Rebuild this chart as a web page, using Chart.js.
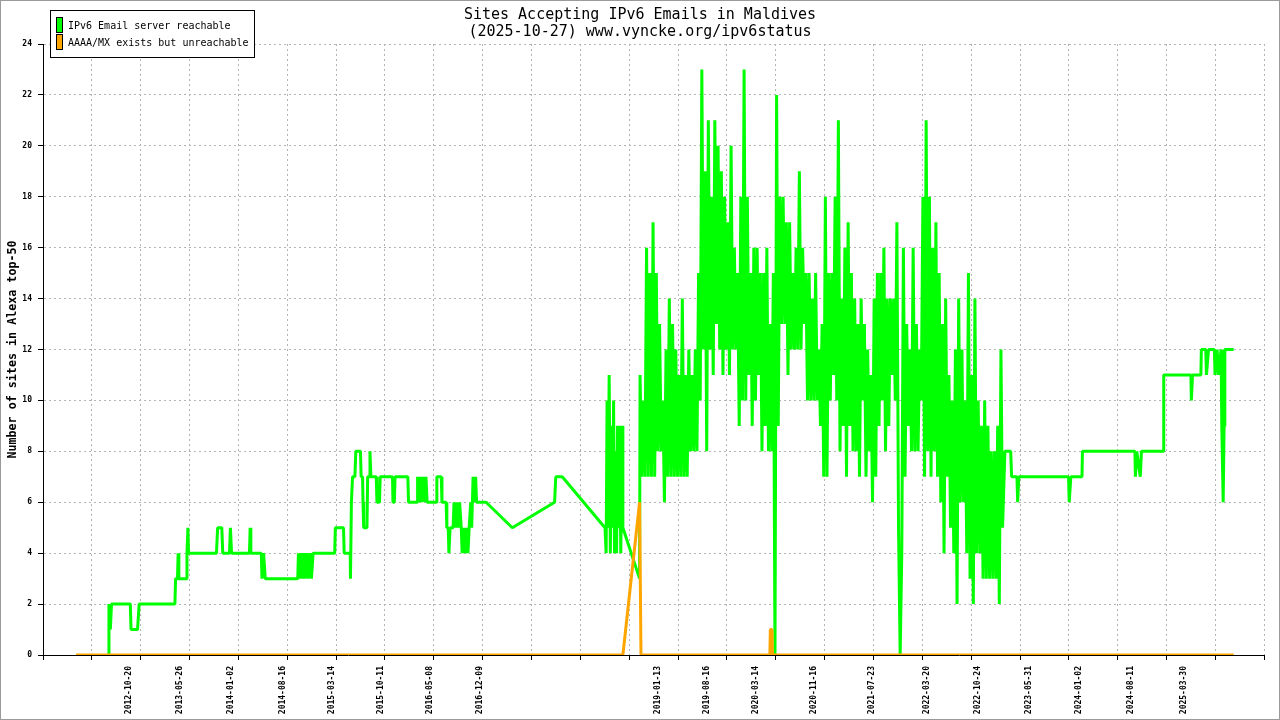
<!DOCTYPE html>
<html>
<head>
<meta charset="utf-8">
<title>Sites Accepting IPv6 Emails in Maldives</title>
<script src="https://cdn.jsdelivr.net/npm/chart.js@4.4.1/dist/chart.umd.min.js"></script>
<style>
  html, body { margin: 0; padding: 0; background: #fff; }
  canvas { display: block; }
</style>
</head>
<body>
<canvas id="emailChart" width="1280" height="720"></canvas>
<script>
// Chart data. All x values are days counted from 2012-01-01.

const chartTitle = ['Sites Accepting IPv6 Emails in Maldives', '(2025-10-27) www.vyncke.org/ipv6status'];
const yAxisTitle = 'Number of sites in Alexa top-50';
const seriesLabels = ['IPv6 Email server reachable', 'AAAA/MX exists but unreachable'];

const tickDates = ['2012-10-20', '2013-05-26', '2014-01-02', '2014-08-16', '2015-03-14', '2015-10-11',
  '2016-05-08', '2016-12-09', '2019-01-13', '2019-08-16', '2020-03-14', '2020-11-16', '2021-07-23',
  '2022-03-20', '2022-10-24', '2023-05-31', '2024-01-02', '2024-08-11', '2025-03-30'];

// reachable servers, 2012 - 2018 (sparse samples)
const greenEarlyDays = [203, 207, 213, 218, 299, 302, 330, 337, 491, 494,
  502, 505, 508, 540, 543, 547, 550, 670, 675, 693,
  697, 726, 730, 735, 812, 815, 818, 863, 866, 873,
  880, 1020, 1023, 1028, 1033, 1038, 1046, 1051, 1059, 1065,
  1073, 1079, 1086, 1179, 1182, 1217, 1220, 1246, 1247, 1251,
  1256, 1266, 1270, 1290, 1293, 1299, 1301, 1304, 1318, 1321,
  1328, 1331, 1335, 1358, 1361, 1372, 1375, 1428, 1430, 1436,
  1439, 1494, 1497, 1534, 1536, 1542, 1547, 1553, 1560, 1567,
  1572, 1577, 1616, 1619, 1638, 1641, 1659, 1662, 1668, 1671,
  1676, 1689, 1693, 1698, 1704, 1711, 1717, 1724, 1728, 1735,
  1741, 1747, 1753, 1758, 1765, 1769, 1775, 1782, 1786, 1790,
  1831, 1944, 2126, 2131, 2159, 2343, 2348, 2352, 2356, 2361,
  2366, 2371, 2376, 2380, 2384, 2389, 2393, 2397, 2402, 2406,
  2411, 2417, 2420, 2492];
const greenEarlyValues = [0, 2, 1, 2, 2, 1, 1, 2, 2, 3,
  3, 4, 3, 3, 4, 5, 4, 4, 5, 5,
  4, 4, 5, 4, 4, 5, 4, 4, 3, 4,
  3, 3, 4, 3, 4, 3, 4, 3, 4, 3,
  4, 3, 4, 4, 5, 5, 4, 4, 3, 6,
  7, 7, 8, 8, 7, 7, 6, 5, 5, 7,
  7, 8, 7, 7, 6, 6, 7, 7, 6, 6,
  7, 7, 6, 6, 7, 6, 7, 6, 7, 6,
  7, 6, 6, 7, 7, 6, 6, 5, 5, 4,
  5, 5, 6, 5, 6, 5, 6, 5, 4, 5,
  4, 5, 4, 5, 6, 5, 7, 6, 7, 6,
  6, 5, 6, 7, 7, 5, 4, 10, 5, 11,
  4, 9, 5, 10, 4, 8, 4, 9, 5, 9,
  4, 9, 5, 3];

// reachable servers, late 2018 - 2023 (weekly samples, very noisy)
const greenBurstStart = '2018-10-30';
const greenBurstStepDays = 7;
const greenBurstValues = [
  11, 7, 10, 7, 16, 7, 15, 7, 17, 7, 15, 8, 13, 8, 10, 6, 12, 7, 14, 7,
  13, 7, 12, 7, 11, 7, 14, 7, 11, 7, 12, 8, 11, 8, 12, 8, 15, 10, 23, 12,
  19, 8, 21, 12, 18, 11, 21, 13, 20, 12, 19, 11, 18, 12, 17, 11, 20, 12, 16, 12,
  15, 9, 18, 10, 23, 10, 18, 11, 15, 9, 16, 10, 16, 11, 15, 8, 15, 9, 16, 8,
  13, 8, 15, 0, 22, 9, 18, 13, 18, 13, 17, 11, 17, 12, 15, 12, 16, 12, 19, 12,
  16, 13, 15, 10, 15, 10, 14, 10, 15, 10, 12, 9, 13, 7, 18, 7, 15, 10, 15, 11,
  18, 10, 21, 8, 14, 9, 16, 7, 17, 9, 15, 8, 14, 8, 13, 7, 14, 10, 13, 7,
  12, 8, 11, 6, 14, 7, 15, 9, 15, 10, 16, 8, 14, 9, 14, 11, 14, 10, 17, 5,
  0, 4, 16, 7, 13, 9, 12, 8, 16, 8, 13, 8, 12, 10, 18, 7, 21, 8, 18, 7,
  16, 8, 17, 7, 15, 6, 13, 4, 14, 7, 11, 5, 10, 4, 12, 2, 14, 6, 12, 6,
  10, 4, 15, 3, 11, 2, 14, 4, 10, 4, 9, 3, 10, 3, 9, 3, 8, 3, 8, 3,
  9, 2, 12, 5];

// reachable servers, 2023 - 2025
const greenLateDays = [4065, 4090, 4094, 4117, 4120, 4125, 4339, 4342, 4349, 4397,
  4399, 4625, 4627, 4633, 4648, 4653, 4747, 4749, 4866, 4868,
  4873, 4909, 4911, 4930, 4933, 4942, 4967, 4970, 4979, 4985,
  4996, 4999, 5005, 5009, 5012, 5050];
const greenLateValues = [8, 8, 7, 7, 6, 7, 7, 6, 7, 7,
  8, 8, 7, 8, 7, 8, 8, 11, 11, 10,
  11, 11, 12, 12, 11, 12, 12, 11, 12, 11,
  12, 9, 6, 9, 12, 12];

// AAAA/MX present but unreachable
const orangeDays = [65, 2420, 2492, 2498, 3053, 3055, 3062, 3064, 5050];
const orangeValues = [0, 0, 6, 0, 0, 1, 1, 0, 0];

// ---------------------------------------------------------------

const FONT = '"DejaVu Sans Mono", "Liberation Mono", monospace';
const GREEN = '#00ff00';
const ORANGE = '#ffa500';
const GRID = '#b4b4b4';
const NONE = 'rgba(0,0,0,0)';

// axis range (days) and the evenly spaced grid ticks
const X_MIN = -77;
const X_MAX = 5182.5;
const GRID_STEPS = 25;

function dayOf(str) {
  const [y, m, d] = str.split('-').map(Number);
  return (Date.UTC(y, m - 1, d) - Date.UTC(2012, 0, 1)) / 864e5;
}

function toPoints(days, values) {
  return days.map((d, i) => ({ x: d, y: values[i] }));
}

function buildGreenPoints() {
  const start = dayOf(greenBurstStart);
  const burst = greenBurstValues.map((v, i) => ({ x: start + i * greenBurstStepDays, y: v }));
  return toPoints(greenEarlyDays, greenEarlyValues)
    .concat(burst)
    .concat(toPoints(greenLateDays, greenLateValues));
}

// title, legend box and outer frame are drawn by hand to sit where the original has them
const decorPlugin = {
  id: 'decor',
  beforeDraw(chart) {
    const ctx = chart.ctx;
    ctx.save();
    ctx.fillStyle = '#fff';
    ctx.fillRect(0, 0, chart.width, chart.height);
    ctx.restore();
  },
  afterDraw(chart) {
    const ctx = chart.ctx;
    ctx.save();

    ctx.fillStyle = '#000';
    ctx.font = '15px ' + FONT;
    ctx.textAlign = 'center';
    ctx.textBaseline = 'alphabetic';
    ctx.fillText(chartTitle[0], 640, 19);
    ctx.fillText(chartTitle[1], 640, 36);

    // legend
    ctx.fillStyle = '#fff';
    ctx.fillRect(50.5, 10.5, 204, 47);
    ctx.strokeStyle = '#000';
    ctx.lineWidth = 1;
    ctx.strokeRect(50.5, 10.5, 204, 47);
    ctx.font = '10px ' + FONT;
    ctx.textAlign = 'left';
    chart.data.datasets.forEach((ds, i) => {
      const top = 17.5 + i * 17;
      ctx.fillStyle = ds.borderColor;
      ctx.fillRect(56.5, top, 6, 15);
      ctx.strokeRect(56.5, top, 6, 15);
      ctx.fillStyle = '#000';
      ctx.fillText(ds.label, 68, 29 + i * 17.4);
    });

    ctx.strokeStyle = '#9a9a9a';
    ctx.strokeRect(0.5, 0.5, chart.width - 1, chart.height - 1);
    ctx.restore();
  }
};

const isDateTick = (c) => c.tick && c.tick.dateLabel;
// no dashed grid line on top of the solid axis lines
const onAxisX = (c) => c.tick && Math.abs(c.tick.value - X_MIN) < 0.01;
const onAxisY = (c) => c.tick && c.tick.value === 0;

new Chart(document.getElementById('emailChart'), {
  type: 'line',
  data: {
    datasets: [
      {
        label: seriesLabels[0],
        data: buildGreenPoints(),
        borderColor: GREEN,
        backgroundColor: GREEN,
        borderWidth: 3,
        borderJoinStyle: 'bevel',
        pointRadius: 0,
        tension: 0,
        order: 2
      },
      {
        label: seriesLabels[1],
        data: toPoints(orangeDays, orangeValues),
        borderColor: ORANGE,
        backgroundColor: ORANGE,
        borderWidth: 3,
        borderJoinStyle: 'bevel',
        pointRadius: 0,
        tension: 0,
        order: 1
      }
    ]
  },
  options: {
    responsive: false,
    animation: false,
    devicePixelRatio: 1,
    layout: { padding: { top: 44, right: 15, bottom: 0, left: 0 } },
    plugins: {
      legend: { display: false },
      title: { display: false },
      tooltip: { enabled: false }
    },
    scales: {
      x: {
        type: 'linear',
        min: X_MIN,
        max: X_MAX,
        afterBuildTicks(scale) {
          const ticks = [];
          for (let k = 0; k <= GRID_STEPS; k++) {
            ticks.push({ value: X_MIN + k * (X_MAX - X_MIN) / GRID_STEPS });
          }
          tickDates.forEach(s => ticks.push({ value: dayOf(s), dateLabel: s }));
          ticks.sort((a, b) => a.value - b.value);
          scale.ticks = ticks;
        },
        afterFit(scale) { scale.height = 65; },
        ticks: {
          autoSkip: false,
          minRotation: 90,
          maxRotation: 90,
          padding: 6,
          color: '#000',
          font: { family: FONT, size: 8, weight: 'bold' },
          callback: (value, index, ticks) => ticks[index].dateLabel || ''
        },
        grid: {
          color: (c) => (isDateTick(c) || onAxisX(c)) ? NONE : GRID,
          tickColor: (c) => isDateTick(c) ? NONE : '#000',
          tickLength: 5,
          borderDash: [2, 3]
        },
        border: { color: '#000', width: 1, dash: [2, 3], z: 1 }
      },
      y: {
        min: 0,
        max: 24,
        afterFit(scale) { scale.width = 43; },
        ticks: {
          stepSize: 2,
          padding: 6,
          color: '#000',
          font: { family: FONT, size: 8, weight: 'bold' }
        },
        title: {
          display: true,
          text: yAxisTitle,
          color: '#000',
          font: { family: FONT, size: 11.7, weight: 'bold' },
          padding: { top: 6, bottom: 0 }
        },
        grid: {
          color: (c) => onAxisY(c) ? NONE : GRID,
          tickColor: '#000',
          tickLength: 5,
          borderDash: [2, 3]
        },
        border: { color: '#000', width: 1, dash: [2, 3], z: 1 }
      }
    }
  },
  plugins: [decorPlugin]
});
</script>
</body>
</html>
